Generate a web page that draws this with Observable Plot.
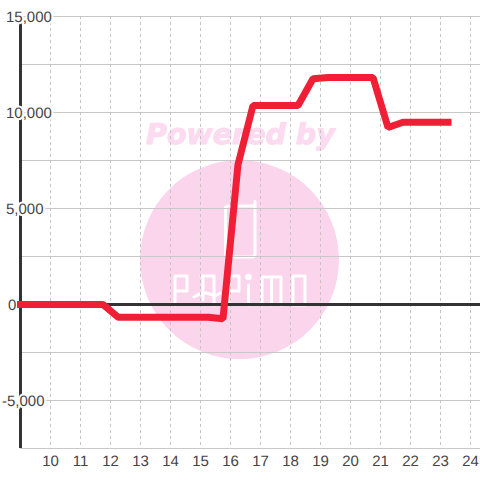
<!DOCTYPE html>
<html>
<head>
<meta charset="utf-8">
<script src="https://cdn.jsdelivr.net/npm/d3@7"></script>
<script src="https://cdn.jsdelivr.net/npm/@observablehq/plot@0.6"></script>
<style>html,body{margin:0;padding:0;background:#fff}svg{display:block}text{text-rendering:geometricPrecision}</style>
</head>
<body>
<div id="chart"></div>
<script>
const hours = [9, 11.75, 12.25, 15.25, 15.75, 16.25, 16.75, 18.25, 18.75, 19.25, 20.75, 21.25, 21.75, 23.25];
const values = [0, 0, -660, -660, -745, 7290, 10365, 10365, 11755, 11820, 11820, 9220, 9490, 9490];
const xTicks = [10, 11, 12, 13, 14, 15, 16, 17, 18, 19, 20, 21, 22, 23, 24];
const yGrid = [-7500, -5000, -2500, 0, 2500, 5000, 7500, 10000, 12500, 15000];
const yLabels = [15000, 10000, 5000, 0, -5000];
const series = hours.map((h, i) => ({h, v: values[i]}));

const ink = "#333333", labelInk = "#444444", grid = "#c8c8c8", pink = "#fbd5ec", pinkText = "#fcdaef", red = "#f01f35";
const font = "'Liberation Sans', Arial, sans-serif";

function logo() {
  const g = d3.create("svg:g").attr("fill", "none").attr("stroke", "#fff").attr("stroke-width", 3)
    .attr("stroke-linejoin", "round").attr("stroke-linecap", "round");
  const paths = [
    "M225.5,208 V254 Q225.5,257 229,257 H252 Q255,257 255,254 V201.5 M225.5,208 Q225.5,206 229,206 H255",
    "M175,305 V276 H187 V291 H175",
    "M201,276 H214 V305 M203,276 V300 M194,297 Q204,290 212,295 Q216,297 220,293",
    "M229,305 V276 H239 V291 H229",
    "M248.5,285 V305",
    "M262,305 V277 H281 V305 M271.5,277 V305",
    "M293,276 H305 V305 H293 Z"
  ];
  for (const d of paths) g.append("path").attr("d", d);
  g.append("circle").attr("cx", 248.5).attr("cy", 277).attr("r", 1.8).attr("fill", "#fff");
  return g.node();
}

const labelMark = (vals, dx) => Plot.text(vals, {
  y: d => d, frameAnchor: "left", dx, dy: 0.5, textAnchor: "start", lineAnchor: "middle",
  text: d => d3.format(",")(d).replace("−", "-"),
  fill: labelInk, stroke: "#fff", strokeWidth: 4, paintOrder: "stroke",
  fontSize: 15, fontFamily: font
});

const chart = Plot.plot({
  width: 480, height: 480,
  marginLeft: 20, marginRight: 0, marginTop: 16, marginBottom: 32,
  style: {background: "#fff", fontFamily: font},
  x: {domain: [9, 24.3333], axis: null},
  y: {domain: [-7500, 15000], axis: null},
  marks: [
    Plot.dot([0], {x: () => 16.3, y: () => 2340, r: 99.5, fill: pink}),
    Plot.text(["Powered by"], {
      x: () => 16.33, y: () => 8850, text: d => d, fill: pinkText, stroke: pinkText, strokeWidth: 1,
      fontFamily: "'DejaVu Sans'", fontWeight: "bold", fontStyle: "italic", fontSize: 28.5, textAnchor: "middle"
    }),
    logo,
    Plot.ruleY(yGrid, {stroke: grid, strokeWidth: 1.2}),
    Plot.ruleX(xTicks, {stroke: "#c4c4c4", strokeWidth: 1, strokeDasharray: "3,3"}),
    Plot.ruleX([9], {stroke: ink, strokeWidth: 3}),
    Plot.ruleY([0], {stroke: ink, strokeWidth: 3}),
    labelMark(yLabels.filter(d => d >= 5000), -14.5),
    labelMark([0], -12.5),
    labelMark([-5000], -18.5),
    Plot.line(series, {
      x: "h", y: "v", stroke: red, strokeWidth: 7, curve: "linear",
      strokeLinecap: "square", strokeLinejoin: "miter"
    }),
    Plot.text(xTicks, {
      x: d => d, y: () => -7500, dy: 13, text: d => String(d), lineAnchor: "middle",
      fill: labelInk, fontSize: 15, fontFamily: font
    })
  ]
});
document.getElementById("chart").appendChild(chart);
</script>
</body>
</html>
